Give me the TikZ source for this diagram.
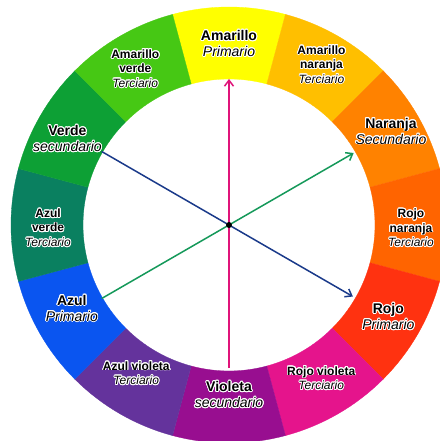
\documentclass[tikz,border=0pt]{standalone}
\usepackage{fontspec}
\setmainfont{Liberation Sans}
\usepackage{contour}
\contourlength{0.9pt}
\usetikzlibrary{arrows.meta}

% colores del circulo
\definecolor{amarillo}{HTML}{FFFF00}
\definecolor{amarillonaranja}{HTML}{FFBF00}
\definecolor{naranja}{HTML}{FF8200}
\definecolor{rojonaranja}{HTML}{FF6400}
\definecolor{rojo}{HTML}{FF3210}
\definecolor{rojovioleta}{HTML}{E5148C}
\definecolor{violeta}{HTML}{980E90}
\definecolor{azulvioleta}{HTML}{64339C}
\definecolor{azul}{HTML}{0A55F0}
\definecolor{azulverde}{HTML}{0A8060}
\definecolor{verde}{HTML}{0DA035}
\definecolor{amarilloverde}{HTML}{46C814}
% colores de las flechas
\definecolor{rosa}{HTML}{E0147A}
\definecolor{azuloscuro}{HTML}{1A3A8A}
\definecolor{verdeoscuro}{HTML}{15995A}

\newcommand{\halo}[1]{\contour{white}{#1}}
\newcommand{\tipo}[1]{\contour{white}{\mdseries\itshape #1}}

\begin{document}
\begin{tikzpicture}[x=1pt,y=1pt,
    principal/.style={font=\fontsize{14}{16}\selectfont\bfseries, align=center, inner sep=0pt},
    terciario/.style={font=\fontsize{12}{14.5}\selectfont\bfseries, align=center, inner sep=0pt},
    eje/.style={line width=1.5pt, -{Straight Barb[length=6pt,width=9pt]}}]

    \fill[white] (-229,-216) rectangle (210,225);
    \useasboundingbox (-229,-216) rectangle (210,225);

    % segmentos del circulo
    \foreach \ang/\col in {90/amarillo, 60/amarillonaranja, 30/naranja, 0/rojonaranja,
                           -30/rojo, -60/rojovioleta, -90/violeta, -120/azulvioleta,
                           -150/azul, 180/azulverde, 150/verde, 120/amarilloverde}
        \filldraw[\col, line width=0.3pt] (\ang-15:146) arc[start angle=\ang-15, end angle=\ang+15, radius=146]
            -- (\ang+15:218) arc[start angle=\ang+15, end angle=\ang-15, radius=218] -- cycle;

    % textos
    \node[principal] (amarillo) at (90:181) {\halo{Amarillo}\\\tipo{Primario}};
    \node[terciario] (amarillonaranja) at (60:185) {\halo{Amarillo}\\\halo{naranja}\\\tipo{Terciario}};
    \node[principal] (naranja) at (30:187) {\halo{Naranja}\\\tipo{Secundario}};
    \node[terciario] (rojonaranja) at (-1:182) {\halo{Rojo}\\\halo{naranja}\\\tipo{Terciario}};
    \node[principal] (rojo) at (-30:184) {\halo{Rojo}\\\tipo{Primario}};
    \node[terciario] (rojovioleta) at (-59:179) {\halo{Rojo violeta}\\\tipo{Terciario}};
    \node[principal] (violeta) at (-90:170) {\halo{Violeta}\\\tipo{secundario}};
    \node[terciario] (azulvioleta) at (-122:175) {\halo{Azul violeta}\\\tipo{Terciario}};
    \node[principal] (azul) at (208:178) {\halo{Azul}\\\tipo{Primario}};
    \node[terciario] (azulverde) at (181:181) {\halo{Azul}\\\halo{verde}\\\tipo{Terciario}};
    \node[principal] (verde) at (152:183) {\halo{Verde}\\\tipo{secundario}};
    \node[terciario] (amarilloverde) at (121:182) {\halo{Amarillo}\\\halo{verde}\\\tipo{Terciario}};

    % flechas
    \coordinate (centro) at (0,0);
    \coordinate (finamarillo) at (90:146);
    \coordinate (finvioleta) at (-90:143);
    \coordinate (finverde) at (150:147);
    \coordinate (finrojo) at (-30:143);
    \coordinate (finazul) at (210:147);
    \coordinate (finnaranja) at (30:144);

    \draw[eje, azuloscuro] (finverde) -- (finrojo);
    \draw[eje, verdeoscuro] (finazul) -- (finnaranja);
    \draw[eje, rosa] (finvioleta) -- (finamarillo);
    \fill (centro) circle (3);
\end{tikzpicture}
\end{document}
